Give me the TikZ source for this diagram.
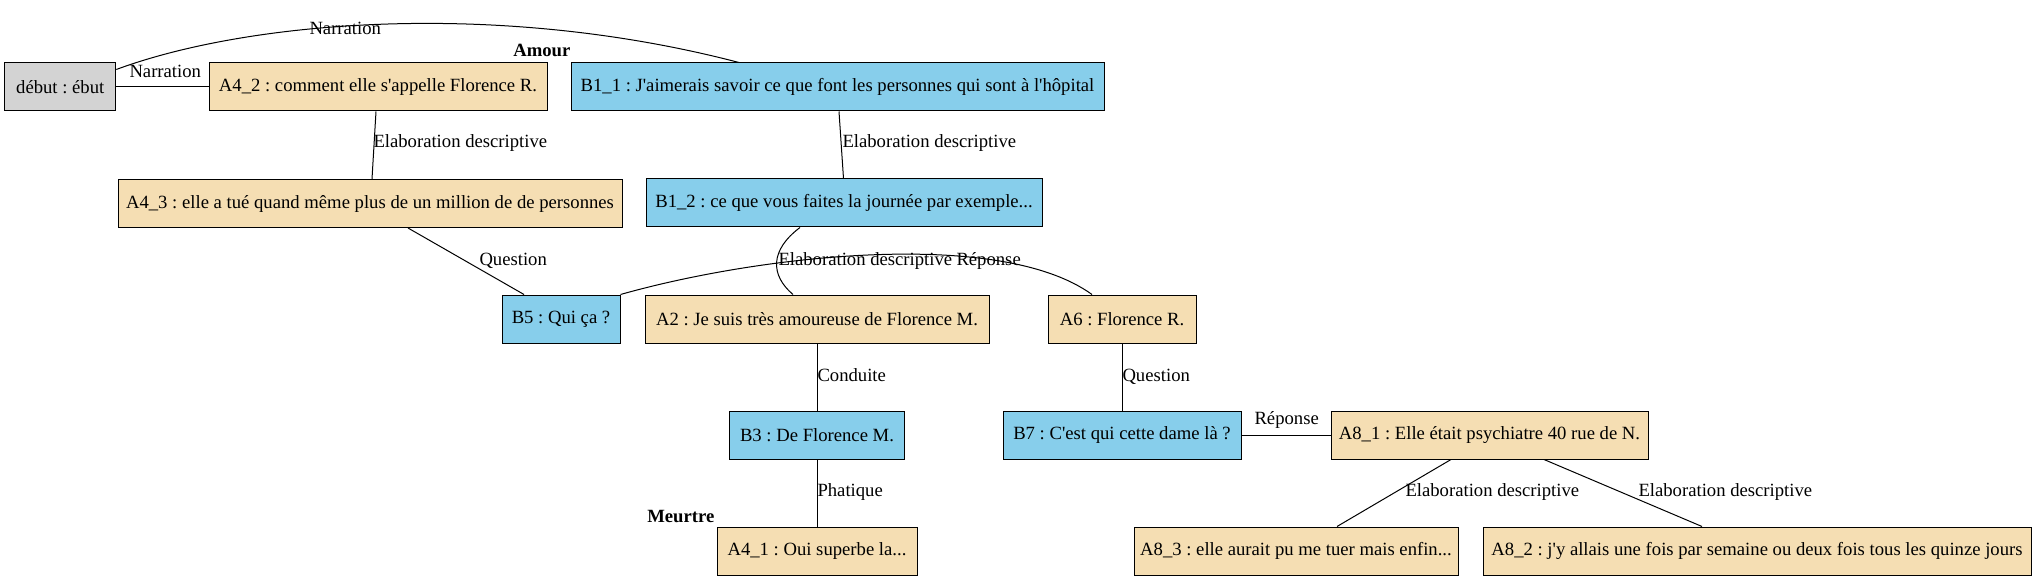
\documentclass[tikz,border=0pt]{standalone}
\usepackage{fontspec}
\setmainfont{Liberation Serif}[Ligatures=TeXOff]
\usetikzlibrary{calc}
\definecolor{wheatc}{HTML}{F5DEB3}
\definecolor{skyc}{HTML}{87CEEB}
\definecolor{greyc}{HTML}{D3D3D3}
\frenchspacing
\begin{document}
\begin{tikzpicture}[x=0.75pt,y=-0.75pt,
  box/.style={draw=black, line width=0.75pt, minimum height=36pt, inner sep=0pt, font=\fontsize{14}{16.8}\selectfont},
  abox/.style={box, fill=wheatc},
  bbox/.style={box, fill=skyc},
  gbox/.style={box, fill=greyc},
  edge/.style={draw=black, line width=0.75pt},
  lab/.style={inner sep=0pt, anchor=base west, font=\fontsize{14}{16.8}\selectfont},
  grp/.style={inner sep=0pt, anchor=base west, font=\fontsize{14}{16.8}\selectfont\bfseries}
]
\useasboundingbox (0,0) rectangle (2035,581);

% nodes
\node[gbox, minimum width=83.25pt] (debut) at (60.25,87) {début : ébut};
\node[abox, minimum width=253.5pt] (A42) at (378,87) {A4\_2 : comment elle s'appelle Florence R.};
\node[bbox, minimum width=399.75pt] (B11) at (837.5,87) {B1\_1 : J'aimerais savoir ce que font les personnes qui sont à l'hôpital};
\node[abox, minimum width=378pt] (A43) at (370,203.5) {A4\_3 : elle a tué quand même plus de un million de de personnes};
\node[bbox, minimum width=297pt] (B12) at (844,203) {B1\_2 : ce que vous faites la journée par exemple...};
\node[bbox, minimum width=88.5pt] (B5) at (561,319) {B5 : Qui ça ?};
\node[abox, minimum width=258pt] (A2) at (817,319) {A2 : Je suis très amoureuse de Florence M.};
\node[abox, minimum width=111pt] (A6) at (1122,319) {A6 : Florence R.};
\node[bbox, minimum width=131.25pt] (B3) at (817,435) {B3 : De Florence M.};
\node[bbox, minimum width=178.5pt] (B7) at (1122,435) {B7 : C'est qui cette dame là ?};
\node[abox, minimum width=237.75pt] (A81) at (1489.5,435) {A8\_1 : Elle était psychiatre 40 rue de N.};
\node[abox, minimum width=150pt] (A41) at (817,551) {A4\_1 : Oui superbe la...};
\node[abox, minimum width=243pt] (A83) at (1296,551) {A8\_3 : elle aurait pu me tuer mais enfin...};
\node[abox, minimum width=411pt] (A82) at (1757,551) {A8\_2 : j'y allais une fois par semaine ou deux fois tous les quinze jours};

% group titles
\node[grp] (amour) at (513,57) {Amour};
\node[grp] (meurtre) at (647,522) {Meurtre};

% connectors
\draw[edge] (debut.east) -- (A42.west) node[lab] at (129,78) {Narration};
\draw[edge] ($(debut.north east)+(0,7)$) .. controls (250,20) and (500,0) .. ($(B11.north)+(-98.5,0)$)
  node[lab] at (309,35) {Narration};
\draw[edge] ($(A42.south)+(-2,0)$) -- ($(A43.north)+(2,0)$) node[lab] at (373,148) {Elaboration descriptive};
\draw[edge] ($(B11.south)+(1.5,0)$) -- ($(B12.north)+(-0.5,0)$) node[lab] at (842,148) {Elaboration descriptive};
\draw[edge] ($(A43.south)+(38,0)$) -- ($(B5.north)+(-37,0)$) node[lab] at (479,265) {Question};
\draw[edge] ($(B12.south)+(-44,0)$) .. controls (770,250) and (770,275) .. ($(A2.north)+(-24,0)$)
  node[lab] at (778,265) {Elaboration descriptive};
\draw[edge] (B5.north east) .. controls (760,255) and (1000,228) .. ($(A6.north)+(-30,0)$)
  node[lab] at (956,265) {Réponse};
\draw[edge] (A2.south) -- (B3.north) node[lab] at (817,381) {Conduite};
\draw[edge] (A6.south) -- (B7.north) node[lab] at (1122,381) {Question};
\draw[edge] (B7.east) -- (A81.west) node[lab] at (1254,424) {Réponse};
\draw[edge] (B3.south) -- (A41.north) node[lab] at (817,496) {Phatique};
\draw[edge] ($(A81.south)+(-38.5,0)$) -- ($(A83.north)+(41,0)$) node[lab] at (1405,496) {Elaboration descriptive};
\draw[edge] ($(A81.south)+(54.5,0)$) -- ($(A82.north)+(-55,0)$) node[lab] at (1638,496) {Elaboration descriptive};
\end{tikzpicture}
\end{document}
